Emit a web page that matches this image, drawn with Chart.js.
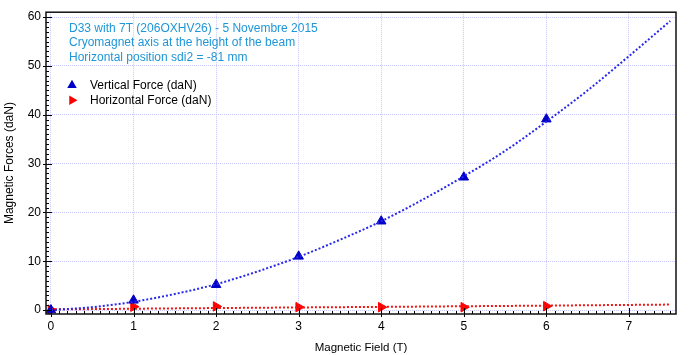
<!DOCTYPE html>
<html>
<head>
<meta charset="utf-8">
<script src="https://cdn.jsdelivr.net/npm/chart.js@4/dist/chart.umd.min.js"></script>
<style>
  html, body { margin: 0; padding: 0; background: #fff; }
  #wrap { width: 700px; height: 355px; }
</style>
</head>
<body>
<div id="wrap"><canvas id="forceChart"></canvas></div>
<script>
// measured points
var fieldT = [0, 1, 2, 3, 4, 5, 6];
var verticalForce = [0, 2.0, 5.2, 11.0, 18.2, 27.2, 39.1];
var horizontalForce = [0.05, 0.7, 0.75, 0.6, 0.6, 0.6, 0.8];

// fitted curves
var fitT = [0, 0.5, 1, 1.5, 2, 2.5, 3, 3.5, 4, 4.5, 5, 5.5, 6, 6.5, 7, 7.5];
var fitVertical = [0, 0.6, 1.7, 3.3, 5.3, 7.9, 10.9, 14.4, 18.2, 22.6, 27.4, 32.6, 38.6, 45.0, 52.0, 59.2];
var fitHorizontal = [0.15, 0.2, 0.28, 0.35, 0.42, 0.48, 0.54, 0.6, 0.66, 0.72, 0.79, 0.85, 0.92, 0.99, 1.06, 1.13];

var xTicks = [0, 1, 2, 3, 4, 5, 6, 7];
var yTicks = [0, 10, 20, 30, 40, 50, 60];

var titleLines = [
  'D33 with 7T (206OXHV26) - 5 Novembre 2015',
  'Cryomagnet axis at the height of the beam',
  'Horizontal position sdi2 = -81 mm'
];
var legendItems = [
  { text: 'Vertical Force (daN)', color: '#0000c8', rotation: 0 },
  { text: 'Horizontal Force (daN)', color: '#ff0000', rotation: 90 }
];

function pairs(xs, ys) {
  return xs.map(function (x, i) { return { x: x, y: ys[i] }; });
}

var FONT = '"Liberation Sans", Arial, sans-serif';

// frame, inner ticks, annotation text and legend
var decorations = {
  id: 'decorations',
  afterDatasetsDraw: function (chart) {
    var ctx = chart.ctx;
    var a = chart.chartArea;
    var xs = chart.scales.x, ys = chart.scales.y;
    ctx.save();

    // minor / major ticks, pointing into the plot
    ctx.strokeStyle = '#000';
    ctx.lineWidth = 1;
    ctx.beginPath();
    for (var i = 0; i <= 75; i++) {
      var v = i / 10;
      var px = Math.round(xs.getPixelForValue(v)) + 0.5;
      var major = (i % 10 === 0);
      ctx.moveTo(px, a.bottom + (major ? 3 : 0));
      ctx.lineTo(px, a.bottom - (major ? 6 : 3));
    }
    for (var j = 0; j <= 60; j++) {
      var py = Math.round(ys.getPixelForValue(j)) + 0.5;
      var maj = (j % 10 === 0);
      ctx.moveTo(a.left - (maj ? 3 : 0), py);
      ctx.lineTo(a.left + (maj ? 6 : 3), py);
    }
    ctx.stroke();

    // frame
    ctx.lineWidth = 1.5;
    ctx.strokeStyle = '#111';
    ctx.strokeRect(a.left, a.top, a.right - a.left, a.bottom - a.top);

    // annotation
    ctx.font = '12px ' + FONT;
    ctx.fillStyle = 'rgb(30,150,215)';
    ctx.textBaseline = 'middle';
    titleLines.forEach(function (t, k) {
      ctx.fillText(t, a.left + 23, a.top + 16 + k * 14.5);
    });

    // legend
    legendItems.forEach(function (it, k) {
      var y = a.top + 73 + k * 15;
      ctx.fillStyle = it.color;
      ctx.strokeStyle = it.color;
      ctx.lineWidth = 1;
      Chart.helpers.drawPoint(ctx, { pointStyle: 'triangle', radius: 5.5, rotation: it.rotation }, a.left + 26, y);
      ctx.fillStyle = '#000';
      ctx.fillText(it.text, a.left + 44, y);
    });
    ctx.restore();
  }
};

var gridStyle = {
  color: 'rgb(200,200,255)',
  lineWidth: 1,
  drawTicks: false
};

new Chart(document.getElementById('forceChart').getContext('2d'), {
  type: 'scatter',
  data: {
    datasets: [
      {
        label: 'Vertical fit',
        data: pairs(fitT, fitVertical),
        showLine: true,
        borderColor: 'rgb(40,40,235)',
        borderWidth: 2,
        borderDash: [2, 2],
        pointRadius: 0,
        cubicInterpolationMode: 'monotone'
      },
      {
        label: 'Horizontal fit',
        data: pairs(fitT, fitHorizontal),
        showLine: true,
        borderColor: 'rgb(240,20,20)',
        borderWidth: 2,
        borderDash: [2, 2],
        pointRadius: 0,
        cubicInterpolationMode: 'monotone'
      },
      {
        label: 'Vertical Force (daN)',
        data: pairs(fieldT, verticalForce),
        pointStyle: 'triangle',
        pointRadius: 5.5,
        backgroundColor: '#0000c8',
        borderColor: '#0000c8',
        borderWidth: 1
      },
      {
        label: 'Horizontal Force (daN)',
        data: pairs(fieldT, horizontalForce),
        pointStyle: 'triangle',
        rotation: 90,
        pointRadius: 5.5,
        backgroundColor: '#ff0000',
        borderColor: '#ff0000',
        borderWidth: 1
      }
    ]
  },
  options: {
    responsive: true,
    maintainAspectRatio: false,
    animation: false,
    layout: { padding: { left: 0, right: 24, top: 8, bottom: 0 } },
    plugins: {
      legend: { display: false },
      tooltip: { enabled: false }
    },
    scales: {
      x: {
        type: 'linear',
        min: -0.06,
        max: 7.57,
        afterBuildTicks: function (s) { s.ticks = xTicks.map(function (v) { return { value: v }; }); },
        afterFit: function (s) { s.height = 41; },
        grid: gridStyle,
        border: { display: false, dash: [1, 1] },
        ticks: { padding: 5, color: '#000', font: { family: FONT, size: 12 } },
        title: {
          display: true,
          text: 'Magnetic Field (T)',
          color: '#000',
          font: { family: FONT, size: 11.5 },
          padding: { top: 0, bottom: 0 }
        }
      },
      y: {
        min: -0.8,
        max: 61,
        afterBuildTicks: function (s) { s.ticks = yTicks.map(function (v) { return { value: v }; }); },
        afterFit: function (s) { s.width = 46; },
        grid: gridStyle,
        border: { display: false, dash: [1, 1] },
        ticks: { padding: 5, color: '#000', font: { family: FONT, size: 12 } },
        title: {
          display: true,
          text: 'Magnetic Forces (daN)',
          color: '#000',
          font: { family: FONT, size: 12 },
          padding: { top: 2, bottom: 0 }
        }
      }
    }
  },
  plugins: [decorations]
});
</script>
</body>
</html>
